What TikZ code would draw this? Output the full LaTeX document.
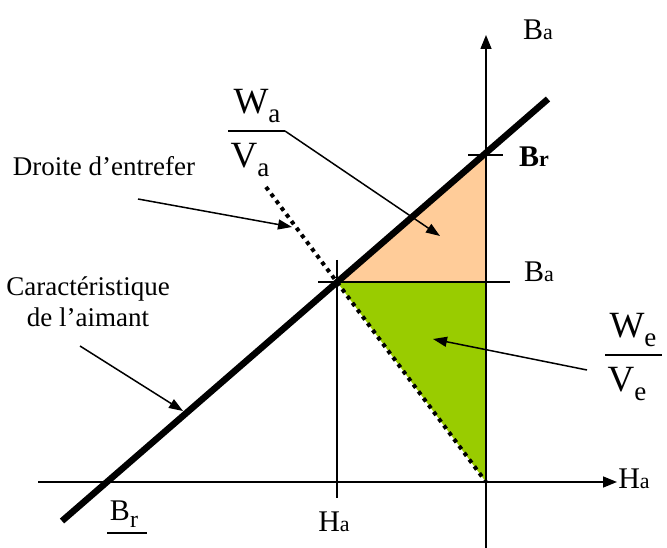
\documentclass[tikz,border=0pt]{standalone}
\usepackage{fontspec}
\setmainfont{Liberation Serif}
\usetikzlibrary{arrows.meta}
\definecolor{peach}{RGB}{255,204,153}
\definecolor{lgreen}{RGB}{153,204,0}
\newcommand{\lowsub}[1]{\raisebox{-0.25em}{\fontsize{27}{29}\selectfont #1}}
\newcommand{\lowsubsm}[1]{\raisebox{-0.22em}{\fontsize{24}{26}\selectfont #1}}
\newcommand{\flatsub}[1]{{\fontsize{22}{24}\selectfont #1}}
\begin{document}
\begin{tikzpicture}[x=1pt,y=-1pt,
  thinline/.style={line width=1.5pt},
  axisline/.style={line width=1.5pt,-{Triangle[length=14pt,width=11pt]}},
  pointer/.style={line width=1.5pt,-{Triangle[length=14pt,width=10pt]}},
  thickline/.style={line width=6.5pt},
  dottedline/.style={line width=4pt,dash pattern=on 4pt off 4.5pt},
  lbl/.style={inner sep=0pt,font=\fontsize{30}{32}\selectfont},
  frac/.style={inner sep=0pt,font=\fontsize{37}{39}\selectfont},
  txt/.style={inner sep=0pt,font=\fontsize{27}{31}\selectfont,align=center}]
\useasboundingbox (0,0) rectangle (667,548);
% key points
\coordinate (O) at (486,482);
\coordinate (BrP) at (486,155);
\coordinate (P) at (337,282);
\coordinate (BaP) at (486,282);
% fills
\fill[peach] (P) -- (BrP) -- (BaP) -- cycle;
\fill[lgreen] (P) -- (BaP) -- (O) -- cycle;
% axes
\coordinate (xl) at (38,482);
\coordinate (xr) at (617,482);
\coordinate (yb) at (486,548);
\coordinate (yt) at (486,35);
\draw[axisline] (xl) -- (xr);
\draw[axisline] (yb) -- (yt);
% ticks
\coordinate (brt1) at (468,155);
\coordinate (brt2) at (503,155);
\draw[thinline] (brt1) -- (brt2);
\coordinate (bat2) at (510,282);
\coordinate (pt1) at (318,282);
\draw[thinline] (pt1) -- (bat2);
\coordinate (hat1) at (337,260);
\coordinate (hat2) at (337,498);
\draw[thinline] (hat1) -- (hat2);
% dotted air-gap line
\coordinate (d1) at (266,187);
\draw[dottedline] (d1) -- (O);
% magnet characteristic
\coordinate (c1) at (62,521);
\coordinate (c2) at (548,99);
\draw[thickline] (c1) -- (c2);
% axis labels
\node[lbl] (lBa1) at (538,30) {B\flatsub{a}};
\node[lbl] (lHa1) at (634,479) {H\flatsub{a}};
\node[lbl] (lBr1) at (534,157) {\textbf{B\flatsub{r}}};
\node[lbl] (lBa2) at (539,272) {B\flatsub{a}};
\node[lbl] (lHa2) at (334,522) {H\flatsub{a}};
\node[lbl] (lBr2) at (124,514) {B\lowsubsm{r}};
\coordinate (u1) at (107,533);
\coordinate (u2) at (147,533);
\draw[thinline] (u1) -- (u2);
% Wa/Va
\node[frac] (Wa) at (257,106) {W\lowsub{a}};
\node[frac] (Va) at (250,160) {V\lowsub{a}};
\coordinate (fa1) at (228,131);
\coordinate (fa2) at (285,131);
\draw[thinline] (fa1) -- (fa2);
\coordinate (fat) at (440,236);
\draw[pointer] (fa2) -- (fat);
% We/Ve
\node[frac] (We) at (633,330) {W\lowsub{e}};
\node[frac] (Ve) at (627,384) {V\lowsub{e}};
\coordinate (fe1) at (605,355);
\coordinate (fe2) at (662,355);
\draw[thinline] (fe1) -- (fe2);
\coordinate (fes) at (587,370);
\coordinate (fet) at (433,339);
\draw[pointer] (fes) -- (fet);
% text labels
\node[txt] (dr) at (104,166) {Droite d’entrefer};
\coordinate (drs) at (138,199);
\coordinate (drt) at (292,227);
\draw[pointer] (drs) -- (drt);
\node[txt] (car) at (88,302) {Caractéristique\\de l’aimant};
\coordinate (cas) at (80,346);
\coordinate (cat) at (183,411);
\draw[pointer] (cas) -- (cat);
\end{tikzpicture}
\end{document}
